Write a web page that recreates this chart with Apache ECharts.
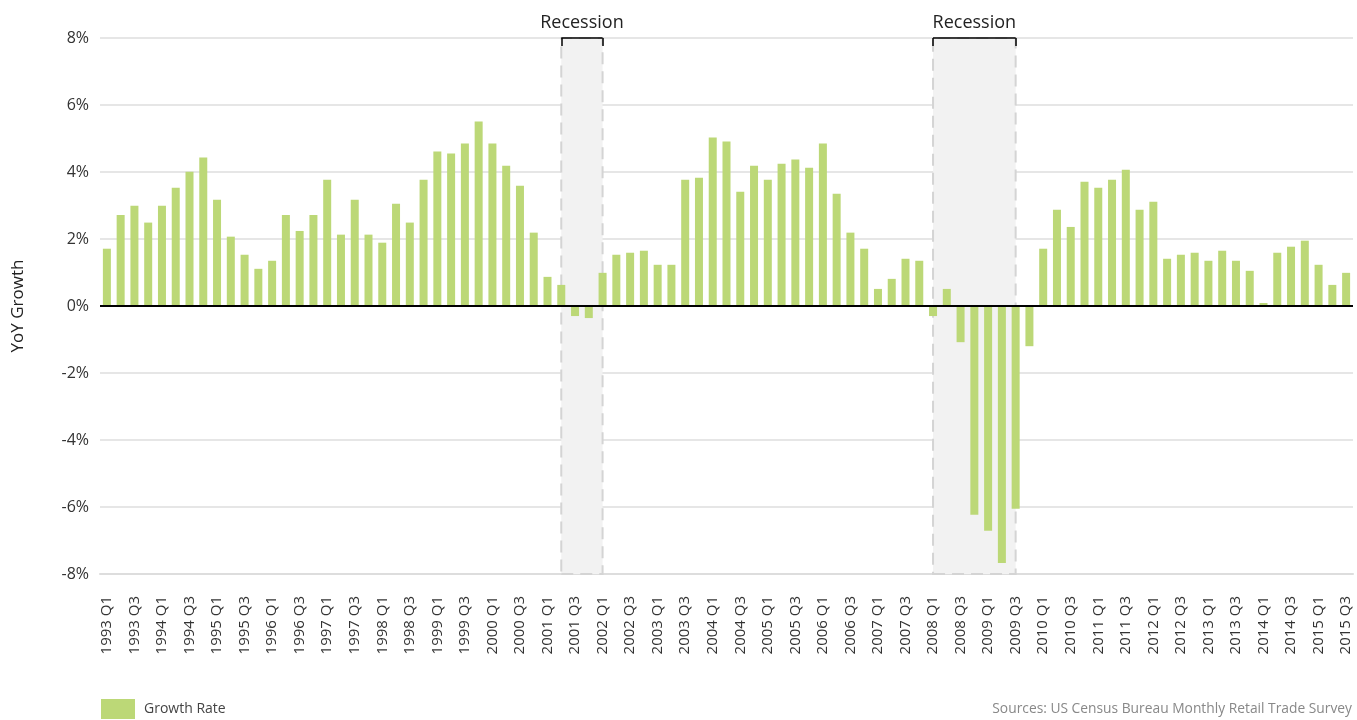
<!DOCTYPE html>
<html>
<head>
<meta charset="utf-8">
<title>YoY Growth</title>
<script src="https://cdn.jsdelivr.net/npm/echarts@6/dist/echarts.min.js"></script>
<style>
  html, body { margin: 0; padding: 0; background: #fff; }
  #chart { width: 1357px; height: 720px; }
</style>
</head>
<body>
<div id="chart"></div>
<script>
// quarterly YoY growth (%), 1993 Q1 .. 2015 Q3
var years = [1993, 1994, 1995, 1996, 1997, 1998, 1999, 2000, 2001, 2002, 2003, 2004,
  2005, 2006, 2007, 2008, 2009, 2010, 2011, 2012, 2013, 2014, 2015]
var quarters = ['Q1', 'Q2', 'Q3', 'Q4']
var lastQuarter = '2015 Q3'

var growthRate = [
  1.71, 2.72, 2.99, 2.49,
  2.99, 3.53, 4.01, 4.43,
  3.17, 2.07, 1.53, 1.11,
  1.35, 2.72, 2.24, 2.72,
  3.77, 2.13, 3.17, 2.13,
  1.89, 3.05, 2.49, 3.77,
  4.61, 4.55, 4.85, 5.51,
  4.85, 4.19, 3.59, 2.19,
  0.87, 0.63, -0.30, -0.36,
  0.99, 1.53, 1.59, 1.65,
  1.23, 1.23, 3.77, 3.83,
  5.03, 4.91, 3.41, 4.19,
  3.77, 4.25, 4.37, 4.13,
  4.85, 3.35, 2.19, 1.71,
  0.51, 0.81, 1.41, 1.35,
  -0.30, 0.51, -1.08, -6.23,
  -6.71, -7.67, -6.05, -1.20,
  1.71, 2.87, 2.36, 3.71,
  3.53, 3.77, 4.07, 2.87,
  3.11, 1.41, 1.53, 1.59,
  1.35, 1.65, 1.35, 1.05,
  0.09, 1.59, 1.77, 1.95,
  1.23, 0.63, 0.99
]

// recession periods [start, end]
var recessions = [
  ['2001 Q2', '2002 Q1'],
  ['2008 Q1', '2009 Q3']
]

var yTicks = [-8, -6, -4, -2, 0, 2, 4, 6, 8]

var categories = []
years.forEach(function (y) {
  quarters.forEach(function (q) {
    if (categories[categories.length - 1] !== lastQuarter) categories.push(y + ' ' + q)
  })
})

var yMin = yTicks[0]
var yMax = yTicks[yTicks.length - 1]
var font = '"Open Sans", sans-serif'

// bracket above each recession shading
var bracketLines = []
recessions.forEach(function (r) {
  bracketLines.push([{ coord: [r[0], yMax] }, { coord: [r[1], yMax] }])
  bracketLines.push([{ coord: [r[0], yMax] }, { coord: [r[0], yMax - 0.24] }])
  bracketLines.push([{ coord: [r[1], yMax] }, { coord: [r[1], yMax - 0.24] }])
})

var chart = echarts.init(document.getElementById('chart'))
var option = {
  backgroundColor: '#ffffff',
  animation: false,
  textStyle: { fontFamily: font },
  grid: { left: 100, right: 4, top: 38, bottom: 146, containLabel: false },
  title: {
    text: 'Sources: US Census Bureau Monthly Retail Trade Survey',
    right: 5,
    top: 702,
    padding: 0,
    textStyle: { fontFamily: font, fontSize: 13.8, fontWeight: 'normal', color: '#888' }
  },
  legend: {
    data: ['Growth Rate'],
    left: 101,
    top: 699,
    padding: 0,
    icon: 'rect',
    itemWidth: 34,
    itemHeight: 20,
    textStyle: { fontFamily: font, fontSize: 14, color: '#444', padding: [0, 0, 0, 4] }
  },
  xAxis: {
    type: 'category',
    data: categories,
    boundaryGap: true,
    axisLine: { onZero: false, lineStyle: { color: '#dddddd', width: 2 } },
    axisTick: { interval: 1, alignWithLabel: true, length: 8, lineStyle: { color: '#222', width: 1.5 } },
    axisLabel: { interval: 1, rotate: 90, margin: 22, fontSize: 15, color: '#333', fontFamily: font },
    splitLine: { show: false }
  },
  yAxis: {
    type: 'value',
    min: yMin,
    max: yMax,
    interval: 2,
    name: 'YoY Growth',
    nameLocation: 'middle',
    nameRotate: 90,
    nameGap: 73,
    nameTextStyle: { fontFamily: font, fontSize: 17, color: '#222' },
    axisLine: { show: false },
    axisTick: { show: false },
    axisLabel: { formatter: '{value}%', fontSize: 16, color: '#333', margin: 11, fontFamily: font },
    splitLine: { lineStyle: { color: '#dedede', width: 1.5 } }
  },
  series: [
    {
      name: 'Growth Rate',
      type: 'bar',
      data: growthRate,
      barWidth: 8,
      itemStyle: { color: '#bcd877' },
      markArea: {
        silent: true,
        itemStyle: {
          color: '#f2f2f2',
          borderColor: '#d4d4d4',
          borderWidth: 2,
          borderType: [12, 7]
        },
        label: {
          show: true,
          position: 'top',
          distance: 5,
          fontFamily: font,
          fontSize: 18,
          color: '#222'
        },
        data: recessions.map(function (r) {
          return [{ name: 'Recession', xAxis: r[0], yAxis: yMax }, { xAxis: r[1], yAxis: yMin }]
        })
      },
      markLine: {
        silent: true,
        symbol: 'none',
        label: { show: false },
        lineStyle: { color: '#000', width: 1.5, type: 'solid' },
        data: [{ yAxis: 0, lineStyle: { width: 2 } }].concat(bracketLines)
      }
    }
  ]
}
chart.setOption(option)
</script>
</body>
</html>
